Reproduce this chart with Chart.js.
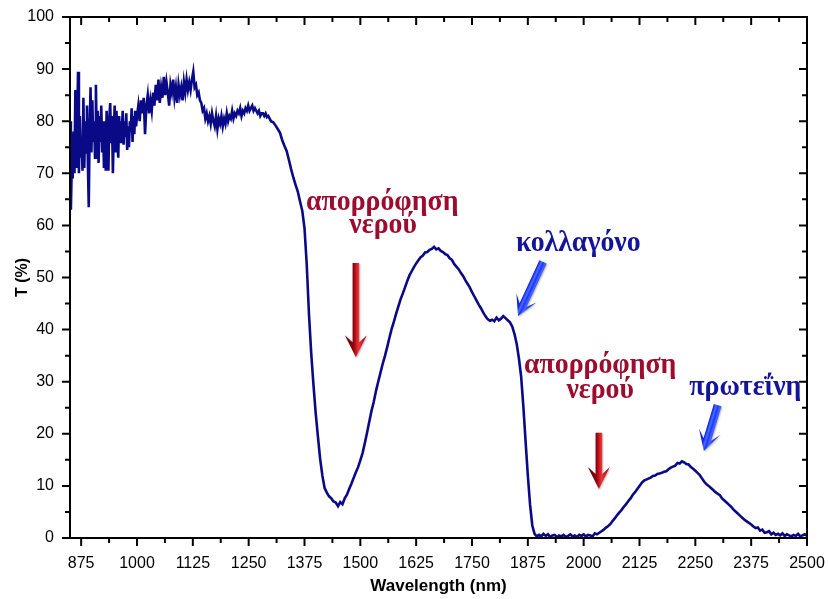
<!DOCTYPE html>
<html>
<head>
<meta charset="utf-8">
<script src="https://cdn.jsdelivr.net/npm/chart.js@4.4.1/dist/chart.umd.min.js"></script>
<style>
  html, body { margin: 0; padding: 0; background: #fff; }
  #wrap { width: 828px; height: 599px; }
</style>
</head>
<body>
<div id="wrap"><canvas id="c" width="828" height="599"></canvas></div>
<script>
// Transmittance spectrum T (%) vs wavelength (nm), sampled in three runs.
// Noisy detector region, 2 nm sampling from 850 nm
const runA = { start: 850, step: 2 };
const transA = [
  80, 63, 72, 69, 78, 70, 86, 71, 79, 89.5,
  70, 81, 73, 77, 70.5, 84.5, 71, 80, 74, 83,
  72, 63.5, 79, 86.5, 74, 84, 76, 80, 73, 87,
  75, 82, 72, 81, 76, 83, 74, 80, 71, 77,
  70.5, 82, 75, 70.5, 80.5, 83.5, 76, 81, 70, 78,
  83, 74, 82, 77, 73, 81, 76, 80, 78, 82,
  75.5, 80, 77, 81.5, 74.5, 79, 75, 80, 78, 82.5,
  76, 81, 77.5, 82, 79, 81
];
// 3 nm sampling from 1003 nm
const runB = { start: 1003, step: 3 };
const transB = [
  83, 80, 84, 81.5, 84.5, 77.5, 83, 85, 81.5, 84,
  82, 85.5, 83, 87, 84, 88, 83.5, 86.5, 84.5, 88.5,
  85, 87.5, 85.5, 83, 87, 85.5, 88, 84.5, 86.5, 83.5,
  87, 85, 86.5, 84, 87.5, 85.5, 88, 86, 87.5, 86,
  88, 89.5, 86.5, 87, 85, 85.5, 84, 83.5, 82, 82.5,
  80.5, 81.5, 80, 81, 79.5, 81.5, 80, 79, 81, 78.5,
  80.5, 79.5, 81, 79, 80.5, 79.5, 81.5, 80, 81, 80.5,
  82, 80.5, 81.5, 81, 82, 81.5, 82.5, 81, 82, 81.5,
  82.5, 82, 83, 82, 82.5, 83, 82, 82.5, 82, 81.5,
  82, 81, 81.5, 81.5, 81, 81.5, 80.8, 81, 80.5, 80
];
// 5 nm sampling from 1305 nm
const runC = { start: 1305, step: 5 };
const transC = [
  79.8, 79.2, 78.5, 77.8, 76.4, 75.3, 74.3, 72.6, 70.8, 69.2,
  67.8, 66.5, 64.6, 62.8, 59.5, 52.5, 43, 35.5, 29.5, 24,
  19.5, 15.2, 12, 9.6, 8.7, 8.0, 7.6, 7.0, 6.8, 6.1,
  6.9, 6.5, 7.6, 8.3, 9.4, 10.4, 11.5, 12.6, 13.6, 14.9,
  16.3, 18.2, 20.2, 22.3, 24.4, 26.1, 28.2, 30.0, 31.7, 33.4,
  34.9, 36.6, 38.4, 40.1, 41.5, 43.0, 44.4, 45.8, 46.9, 48.1,
  49.3, 50.4, 51.2, 52.0, 52.7, 53.3, 53.9, 54.2, 54.8, 54.9,
  55.3, 55.5, 55.9, 55.4, 55.6, 55.1, 54.9, 54.5, 54.3, 53.7,
  53.4, 52.6, 52.1, 51.6, 50.9, 50.3, 49.5, 48.8, 48.1, 47.2,
  46.4, 45.6, 44.8, 44.1, 43.3, 42.6, 42.0, 41.7, 41.9, 41.6,
  42.3, 41.8, 42.1, 42.6, 42.2, 41.8, 41.4, 40.6, 39.2, 37.3,
  34.5, 31.0, 25.2, 18.5, 12.0, 6.4, 2.4, 0.8, 0.3, 0.6,
  0.3, 0.8, 0.4, 0.7, 0.2, 0.5, 0.6, 0.2, 0.5, 0.3,
  0.6, 0.2, 0.4, 0.7, 0.3, 0.5, 0.2, 0.6, 0.4, 0.7,
  0.3, 0.6, 0.5, 0.3, 0.9, 0.7, 1.0, 1.3, 1.6, 2.0,
  2.3, 2.7, 3.3, 3.8, 4.4, 4.9, 5.4, 6.0, 6.5, 7.1,
  7.6, 8.3, 8.8, 9.4, 10.0, 10.6, 11.0, 11.2, 11.4, 11.6,
  11.9, 12.0, 12.3, 12.4, 12.5, 12.7, 12.8, 13.2, 13.5, 13.7,
  13.9, 14.4, 14.3, 14.7, 14.5, 14.2, 14.1, 13.6, 13.3, 12.9,
  12.5, 12.1, 11.4, 10.8, 10.3, 10.0, 9.6, 9.2, 8.8, 8.5,
  8.2, 7.6, 7.2, 6.8, 6.4, 6.0, 5.5, 5.1, 4.7, 4.3,
  3.9, 3.5, 3.2, 2.9, 2.6, 2.2, 1.9, 2.0, 1.4, 1.6,
  1.0, 1.1, 1.3, 0.7, 1.0, 0.6, 0.8, 0.5, 0.9, 0.4,
  0.7, 0.5, 0.3, 0.6, 0.4, 0.8, 0.3, 0.5, 0.7, 0.4
];

// Axis tick labels
const xTickLabels = [875, 1000, 1125, 1250, 1375, 1500, 1625, 1750, 1875, 2000, 2125, 2250, 2375, 2500];
const yTickLabels = [0, 10, 20, 30, 40, 50, 60, 70, 80, 90, 100];

// Band annotations (data coordinates: wavelength, T)
const RED = '#9d0b2e';
const BLUE = '#13139b';
const notes = [
  { text: 'απορρόφηση', x: 1549, y: 63.0, color: RED },
  { text: 'νερού',      x: 1551, y: 58.5, color: RED },
  { text: 'κολλαγόνο',  x: 1988, y: 55.0, color: BLUE },
  { text: 'απορρόφηση', x: 2037, y: 31.7, color: RED },
  { text: 'νερού',      x: 2037, y: 26.9, color: RED },
  { text: 'πρωτεΐνη',   x: 2362, y: 27.4, color: BLUE }
];
const arrows = [
  { from: [1490, 52.8], to: [1490, 34.7], kind: 'red' },
  { from: [2034, 20.2], to: [2034, 9.4], kind: 'red' },
  { from: [1909, 53.0], to: [1853, 42.6], kind: 'blue' },
  { from: [2300, 25.5], to: [2269, 16.7], kind: 'blue' }
];

// Plot frame position inside the 828x599 canvas
const frame = { left: 70, top: 17, right: 807, bottom: 538 };

function runPoints(run, values) {
  return values.map((t, i) => ({ x: run.start + i * run.step, y: t }));
}
const spectrum = [].concat(runPoints(runA, transA), runPoints(runB, transB), runPoints(runC, transC));

function drawArrow(ctx, p0, p1, kind) {
  const dx = p1.x - p0.x, dy = p1.y - p0.y;
  const len = Math.hypot(dx, dy);
  const d = { x: dx / len, y: dy / len };
  const n = { x: -d.y, y: d.x };
  const red = kind === 'red';
  const hw = red ? 3.3 : 4.0, hh = 11, headLen = red ? 22 : 20, neck = red ? 15 : 12;
  const at = (p, a, b) => ({ x: p.x + d.x * a + n.x * b, y: p.y + d.y * a + n.y * b });
  const pts = [
    at(p0, 0, hw), at(p1, -neck, hw), at(p1, -headLen, hh), p1,
    at(p1, -headLen, -hh), at(p1, -neck, -hw), at(p0, 0, -hw)
  ];
  const g0 = at(p0, 0, hh), g1 = at(p0, 0, -hh);
  const grad = ctx.createLinearGradient(g0.x, g0.y, g1.x, g1.y);
  if (red) {
    grad.addColorStop(0, '#5e0008');
    grad.addColorStop(0.40, '#8a0510');
    grad.addColorStop(0.50, '#c8141c');
    grad.addColorStop(0.62, '#e8333a');
    grad.addColorStop(1, '#a00a14');
  } else {
    grad.addColorStop(0, '#0612b8');
    grad.addColorStop(0.34, '#1028e8');
    grad.addColorStop(0.44, '#4e6cff');
    grad.addColorStop(0.53, '#1a36ff');
    grad.addColorStop(0.62, '#4463ff');
    grad.addColorStop(1, '#0a1cd6');
  }
  ctx.save();
  ctx.shadowColor = 'rgba(0,0,0,0.25)';
  ctx.shadowBlur = 1.5;
  ctx.shadowOffsetX = 1;
  ctx.shadowOffsetY = 1;
  ctx.beginPath();
  ctx.moveTo(pts[0].x, pts[0].y);
  for (let i = 1; i < pts.length; i++) ctx.lineTo(pts[i].x, pts[i].y);
  ctx.closePath();
  ctx.fillStyle = grad;
  ctx.fill();
  ctx.restore();
}

const frameAndNotes = {
  id: 'frameAndNotes',
  afterDatasetsDraw(chart) {
    const { ctx, chartArea: a, scales: { x, y } } = chart;
    ctx.save();
    ctx.strokeStyle = '#000';
    ctx.lineWidth = 2;
    ctx.strokeRect(a.left, a.top, a.right - a.left, a.bottom - a.top);

    const major = 8, minor = 5;
    ctx.beginPath();
    xTickLabels.forEach((v, i) => {
      const px = x.getPixelForValue(v);
      ctx.moveTo(px, a.bottom); ctx.lineTo(px, a.bottom + major);
      ctx.moveTo(px, a.top); ctx.lineTo(px, a.top + major);
      if (i > 0) {
        const m = x.getPixelForValue((v + xTickLabels[i - 1]) / 2);
        ctx.moveTo(m, a.bottom); ctx.lineTo(m, a.bottom + minor);
        ctx.moveTo(m, a.top); ctx.lineTo(m, a.top + minor);
      }
    });
    yTickLabels.forEach((v, i) => {
      const py = y.getPixelForValue(v);
      ctx.moveTo(a.left, py); ctx.lineTo(a.left - major, py);
      ctx.moveTo(a.right, py); ctx.lineTo(a.right - major, py);
      if (i > 0) {
        const m = y.getPixelForValue((v + yTickLabels[i - 1]) / 2);
        ctx.moveTo(a.left, m); ctx.lineTo(a.left - minor, m);
        ctx.moveTo(a.right, m); ctx.lineTo(a.right - minor, m);
      }
    });
    ctx.stroke();

    arrows.forEach(ar => {
      const p0 = { x: x.getPixelForValue(ar.from[0]), y: y.getPixelForValue(ar.from[1]) };
      const p1 = { x: x.getPixelForValue(ar.to[0]), y: y.getPixelForValue(ar.to[1]) };
      drawArrow(ctx, p0, p1, ar.kind);
    });

    ctx.font = 'bold 27px "Liberation Serif", "Times New Roman", serif';
    ctx.textAlign = 'center';
    ctx.textBaseline = 'alphabetic';
    notes.forEach(nt => {
      ctx.save();
      ctx.translate(x.getPixelForValue(nt.x), y.getPixelForValue(nt.y));
      ctx.scale(1.03, 1.12);
      ctx.fillStyle = nt.color;
      ctx.fillText(nt.text, 0, 0);
      ctx.restore();
    });
    ctx.restore();
  }
};

const tickFont = { family: '"Liberation Sans", Arial, sans-serif', size: 16 };

function makeConfig(padTop, padRight) {
  return {
    type: 'line',
    data: {
      datasets: [{
        data: spectrum,
        borderColor: '#0a0a87',
        borderWidth: 2.6,
        pointRadius: 0,
        pointHoverRadius: 0,
        tension: 0,
        fill: false
      }]
    },
    options: {
      responsive: false,
      animation: false,
      events: [],
      layout: { autoPadding: false, padding: { top: padTop, right: padRight, left: 0, bottom: 0 } },
      plugins: { legend: { display: false }, tooltip: { enabled: false } },
      scales: {
        x: {
          type: 'linear',
          min: 850,
          max: 2500,
          afterFit: s => { s.height = 599 - frame.bottom; },
          afterBuildTicks: s => { s.ticks = xTickLabels.map(v => ({ value: v })); },
          // label offset comes from the (undrawn) tick length, tick marks are drawn by the plugin
          grid: { display: false, drawTicks: true, tickLength: 16 },
          border: { display: false },
          ticks: { color: '#000', font: tickFont, padding: 0, maxRotation: 0, autoSkip: false,
                   callback: v => String(v) },
          title: {
            display: true,
            text: 'Wavelength (nm)',
            color: '#000',
            font: { family: '"Liberation Sans", Arial, sans-serif', size: 17, weight: 'bold' },
            padding: { top: 0, bottom: 2 }
          }
        },
        y: {
          min: 0,
          max: 100,
          afterFit: s => { s.width = frame.left; },
          afterBuildTicks: s => { s.ticks = yTickLabels.map(v => ({ value: v })); },
          grid: { display: false, drawTicks: true, tickLength: 16 },
          border: { display: false },
          ticks: { color: '#000', font: tickFont, padding: 0, autoSkip: false,
                   callback: v => String(v) },
          title: {
            display: true,
            text: 'T (%)',
            color: '#000',
            font: { family: '"Liberation Sans", Arial, sans-serif', size: 16, weight: 'bold' },
            padding: { top: 13, bottom: 0 }
          }
        }
      }
    },
    plugins: [frameAndNotes]
  };
}

// Build the chart, then rebuild with corrected padding until the plot frame sits on its edges
const canvas = document.getElementById('c');
let padTop = frame.top, padRight = 828 - frame.right;
let chart = null;
for (let k = 0; k < 4; k++) {
  chart = new Chart(canvas, makeConfig(padTop, padRight));
  const a = chart.chartArea;
  const dt = frame.top - a.top, dr = a.right - frame.right;
  if ((Math.abs(dt) < 0.5 && Math.abs(dr) < 0.5) || k === 3) break;
  padTop += dt;
  padRight += dr;
  chart.destroy();
}
</script>
</body>
</html>
